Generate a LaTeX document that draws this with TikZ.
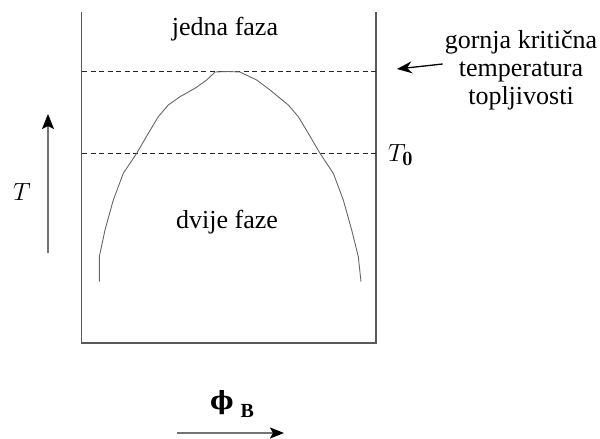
\documentclass[tikz,border=0pt]{standalone}
\usepackage{fontspec}
\usepackage{amsmath}
\newfontfamily\lserif{Liberation Serif}
\newfontfamily\dvs{DejaVu Serif}
\usetikzlibrary{arrows.meta}
\tikzset{
  frame/.style={draw=black!65, line width=1.4pt},
  dashline/.style={draw=black!85, line width=0.9pt, dash pattern=on 5pt off 3.5pt},
  curve/.style={draw=black!60, line width=0.9pt},
  axis/.style={draw=black!55, line width=1.4pt},
  lbl/.style={font=\fontsize{26}{28}\selectfont\lserif, inner sep=0pt},
  mlbl/.style={font=\fontsize{29}{31}\selectfont, inner sep=0pt},
}
\begin{document}
\begin{tikzpicture}[x=1pt,y=-1pt]
\useasboundingbox (0,0) rectangle (600,439);
% frame
\draw[frame] (81.5,12) -- (81.5,343) -- (376,343) -- (376,12);
% dashed lines
\draw[dashline] (82,71.5) -- (376,71.5);
\draw[dashline] (82,153) -- (376,153);
% binodal curve
\draw[curve] plot coordinates {
 (99.3,281.7) (99.3,256.7) (105,230) (113.3,200) (123.3,173.3) (136.7,153.3)
 (148.3,133.3) (158.3,116.7) (168.3,105) (180,96.7) (195,88.3) (206.7,80)
 (215,72) (228,71.5) (240,72) (256.7,80) (270,90) (288.3,105) (298.3,116.7)
 (308.3,133.3) (320,153.3) (333.3,173.3) (343.3,200) (351.7,230) (358.3,256.7) (361,281.7)};
% labels
\node[lbl] (jedna) at (225,29) {jedna faza};
\node[lbl] (dvije) at (227,222) {dvije faze};
\node[lbl, align=center] (gkt) at (521,70) {gornja kritična\\temperatura\\topljivosti};
\coordinate (gktend) at (397,69);
\draw[black, line width=1.3pt, -{Stealth[length=15pt,width=12pt]}] (gkt.west |- 0,64) ++(-2,0) coordinate (gktstart) -- (gktend);
\node[mlbl, anchor=west] (T0) at (388,155) {$T_{\mathbf{0}}$};
\node[mlbl] (T) at (22,192) {$T$};
\coordinate (Tbot) at (48,253);
\coordinate (Ttop) at (48,114);
\draw[axis, -{Stealth[length=15pt,width=12pt,inset=3pt,black]}] (Tbot) -- (Ttop);
\node[inner sep=0pt, anchor=base west] (phi) at (210,409) {\fontsize{25}{27}\selectfont\dvs\bfseries ϕ\hspace{7pt}\raisebox{-8pt}{\fontsize{20}{22}\selectfont\lserif\bfseries B}};
\coordinate (phistart) at (177,433);
\coordinate (phiend) at (284,433);
\draw[axis, -{Stealth[length=14pt,width=11pt,inset=3pt,black]}] (phistart) -- (phiend);
\end{tikzpicture}
\end{document}
